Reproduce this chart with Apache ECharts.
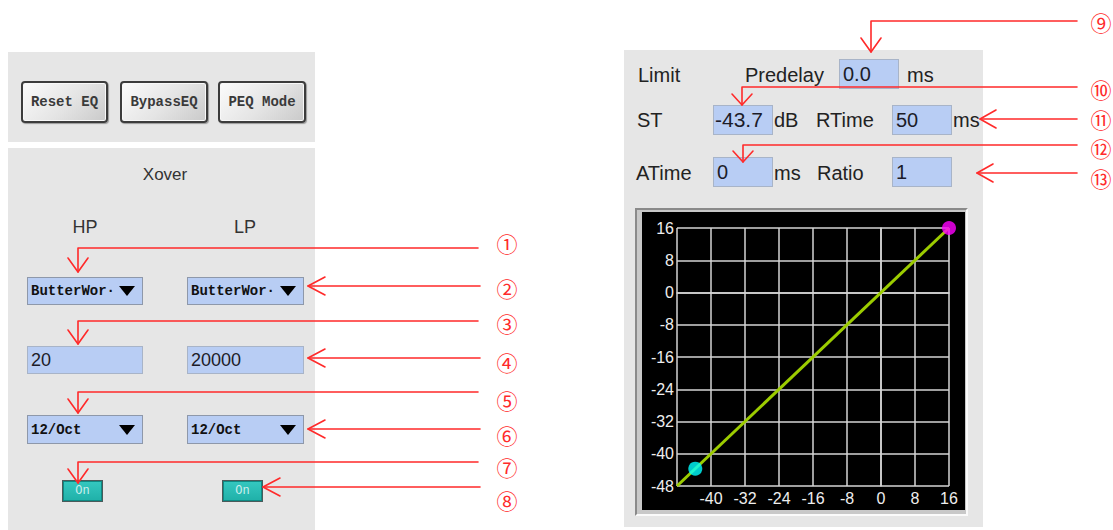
<!DOCTYPE html>
<html>
<head>
<meta charset="utf-8">
<script src="https://cdn.jsdelivr.net/npm/echarts@6/dist/echarts.min.js"></script>
<style>
  html, body { margin: 0; padding: 0; background: #ffffff; }
  body { width: 1113px; height: 530px; position: relative; overflow: hidden; font-family: "Liberation Sans", Arial, sans-serif; color: #222; }
  .panel { position: absolute; background: #e6e6e6; }
  .btn { position: absolute; box-sizing: border-box; border: 2px solid #3c3c3c; border-radius: 4px;
         background: linear-gradient(135deg, #fbfbfb 0%, #e4e4e4 55%, #c9c9c9 100%);
         box-shadow: inset 0 0 0 1px #f8f8f8, 1px 1px 1px #9a9a9a;
         font-family: "Liberation Mono", "DejaVu Sans Mono", monospace; font-weight: bold; font-size: 14px; color: #3a3a3a;
         display: flex; align-items: center; justify-content: center; }
  .lbl { position: absolute; white-space: nowrap; line-height: 1; transform: translateY(-50%); }
  .box { position: absolute; box-sizing: border-box; background: #b8cdf4; border: 1px solid #a8b4c8;
         display: flex; align-items: center; padding-left: 3px; white-space: nowrap; color: #1c1c28; }
  .dd { font-family: "Liberation Mono", "DejaVu Sans Mono", monospace; font-size: 14px; font-weight: bold; color: #111; border-color: #8e98aa; }
  .tri { position: absolute; right: 7px; top: 50%; margin-top: -5px; width: 0; height: 0;
         border-left: 8px solid transparent; border-right: 8px solid transparent; border-top: 10px solid #000; }
  .on { position: absolute; box-sizing: border-box; background: linear-gradient(#35c8c0, #1fb0a8); border: 1px solid #4a5a5a;
        box-shadow: inset 0 0 0 1px #0e8a84; color: #cdeeee; font-family: "Liberation Mono", monospace; font-size: 12px;
        display: flex; align-items: center; justify-content: center; }
  .num { position: absolute; color: #ff2a2a; font-family: "Noto Sans CJK SC", "DejaVu Sans", sans-serif; font-size: 21px;
         line-height: 20px; height: 20px; transform: translate(-50%, -50%); }
  #chartFrame { position: absolute; left: 635px; top: 208px; width: 333px; height: 308px; box-sizing: border-box;
                border-style: solid; border-width: 2px; border-color: #8a8a8a #fafafa #fafafa #8a8a8a; background: #c8c8c8; }
  #chart { position: absolute; left: 642px; top: 212px; width: 323px; height: 298px; background: #000; }
  svg.arrows { position: absolute; left: 0; top: 0; }
</style>
</head>
<body>
<!-- left panels -->
<div class="panel" style="left:8px; top:52px; width:307px; height:90px;"></div>
<div class="panel" style="left:8px; top:148px; width:307px; height:382px;"></div>

<div class="btn" style="left:21px; top:81px; width:87px; height:42px;">Reset EQ</div>
<div class="btn" style="left:120px; top:81px; width:88px; height:42px;">BypassEQ</div>
<div class="btn" style="left:218px; top:81px; width:88px; height:42px;">PEQ Mode</div>

<div class="lbl" style="left:165px; top:174px; font-size:17px; color:#333; transform:translate(-50%,-50%);">Xover</div>
<div class="lbl" style="left:85px; top:227px; font-size:18px; color:#333; transform:translate(-50%,-50%);">HP</div>
<div class="lbl" style="left:245px; top:227px; font-size:18px; color:#333; transform:translate(-50%,-50%);">LP</div>

<div id="hpType" class="box dd" style="left:27px; top:277px; width:116px; height:28px;"></div>
<div id="lpType" class="box dd" style="left:187px; top:277px; width:117px; height:28px;"></div>
<div id="hpFreq" class="box" style="left:27px; top:346px; width:116px; height:28px; font-size:18px;"></div>
<div id="lpFreq" class="box" style="left:187px; top:346px; width:117px; height:28px; font-size:18px;"></div>
<div id="hpSlope" class="box dd" style="left:27px; top:415px; width:116px; height:29px;"></div>
<div id="lpSlope" class="box dd" style="left:187px; top:415px; width:117px; height:29px;"></div>
<div id="hpOn" class="on" style="left:62px; top:480px; width:41px; height:22px;"></div>
<div id="lpOn" class="on" style="left:222px; top:480px; width:41px; height:22px;"></div>

<!-- right panel -->
<div class="panel" style="left:624px; top:50px; width:359px; height:477px;"></div>
<div class="lbl" style="left:638px; top:75px; font-size:20px;">Limit</div>
<div class="lbl" style="left:745px; top:75px; font-size:20px;">Predelay</div>
<div id="predelay" class="box" style="left:839px; top:59px; width:60px; height:30px; font-size:20px;"></div>
<div class="lbl" style="left:907px; top:75px; font-size:20px;">ms</div>

<div class="lbl" style="left:637px; top:120px; font-size:20px;">ST</div>
<div id="st" class="box" style="left:713px; top:105px; width:60px; height:30px; font-size:21px; padding-left:1px;"></div>
<div class="lbl" style="left:774px; top:120px; font-size:20px;">dB</div>
<div class="lbl" style="left:816px; top:120px; font-size:20px;">RTime</div>
<div id="rtime" class="box" style="left:892px; top:105px; width:60px; height:30px; font-size:20px;"></div>
<div class="lbl" style="left:953px; top:120px; font-size:20px;">ms</div>

<div class="lbl" style="left:636px; top:173px; font-size:20px;">ATime</div>
<div id="atime" class="box" style="left:713px; top:157px; width:60px; height:30px; font-size:20px;"></div>
<div class="lbl" style="left:774px; top:173px; font-size:20px;">ms</div>
<div class="lbl" style="left:817px; top:173px; font-size:20px;">Ratio</div>
<div id="ratio" class="box" style="left:892px; top:157px; width:60px; height:30px; font-size:20px;"></div>

<div id="chartFrame"></div>
<div id="chart"></div>

<svg class="arrows" width="1113" height="530" xmlns="http://www.w3.org/2000/svg">
  <g fill="none" stroke="#ff2a2a" stroke-width="1.6" stroke-linecap="round" stroke-linejoin="round">
    <!-- left side -->
    <polyline points="478,248 78,248 78,272"/><polyline points="68,258 78,272 88,258"/>
    <line x1="480" y1="286" x2="308" y2="286"/><polyline points="325,277 308,286 325,295"/>
    <polyline points="478,321 78,321 78,344"/><polyline points="68,330 78,344 88,330"/>
    <line x1="480" y1="358" x2="308" y2="358"/><polyline points="325,349 308,358 325,367"/>
    <polyline points="478,392 78,392 78,413"/><polyline points="68,399 78,413 88,399"/>
    <line x1="480" y1="429" x2="308" y2="429"/><polyline points="325,420 308,429 325,438"/>
    <polyline points="478,462 78,462 78,483"/><polyline points="68,469 78,483 88,469"/>
    <line x1="480" y1="487" x2="263" y2="487"/><polyline points="280,478 263,487 280,496"/>
    <!-- right side -->
    <polyline points="1077,21 871,21 871,52"/><polyline points="861,38 871,52 881,38"/>
    <polyline points="1077,87 742,87 742,105"/><polyline points="732,94 742,105 752,94"/>
    <line x1="1077" y1="119" x2="980" y2="119"/><polyline points="996,110 980,119 996,128"/>
    <polyline points="1077,145 743,145 743,162"/><polyline points="733,151 743,162 753,151"/>
    <line x1="1077" y1="173" x2="977" y2="173"/><polyline points="993,164 977,173 993,182"/>
  </g>
</svg>

<div class="num" style="left:507px; top:243px;">①</div>
<div class="num" style="left:507px; top:288px;">②</div>
<div class="num" style="left:507px; top:323px;">③</div>
<div class="num" style="left:507px; top:362px;">④</div>
<div class="num" style="left:507px; top:400px;">⑤</div>
<div class="num" style="left:507px; top:435px;">⑥</div>
<div class="num" style="left:507px; top:467px;">⑦</div>
<div class="num" style="left:507px; top:500px;">⑧</div>
<div class="num" style="left:1101px; top:22px;">⑨</div>
<div class="num" style="left:1101px; top:89px;">⑩</div>
<div class="num" style="left:1101px; top:119px;">⑪</div>
<div class="num" style="left:1101px; top:148px;">⑫</div>
<div class="num" style="left:1101px; top:178px;">⑬</div>

<script>
// ---- data ----
const levelMin = -48;
const levelMax = 16;
const levelStep = 8;
const inputLevels = [-48, 16];          // dB in
const outputLevels = [-48, 16];         // dB out (ratio 1 => identity)
const thresholdPoint = [-43.7, -43.7];  // ST marker
const maxPoint = [16, 16];              // top marker
const limiterValues = { predelay: "0.0", st: "-43.7", rtime: "50", atime: "0", ratio: "1" };
const xoverTypes = ["ButterWor\u00b7", "ButterWor\u00b7"];
const xoverFreqs = ["20", "20000"];
const xoverSlopes = ["12/Oct", "12/Oct"];
const xoverState = ["On", "On"];

// ---- fill UI text ----
function setText(id, t, tri) {
  const el = document.getElementById(id);
  el.textContent = t;
  if (tri) { const s = document.createElement('span'); s.className = 'tri'; el.appendChild(s); }
}
setText('hpType', xoverTypes[0], true); setText('lpType', xoverTypes[1], true);
setText('hpFreq', xoverFreqs[0]); setText('lpFreq', xoverFreqs[1]);
setText('hpSlope', xoverSlopes[0], true); setText('lpSlope', xoverSlopes[1], true);
setText('hpOn', xoverState[0]); setText('lpOn', xoverState[1]);
setText('predelay', limiterValues.predelay); setText('st', limiterValues.st);
setText('rtime', limiterValues.rtime); setText('atime', limiterValues.atime); setText('ratio', limiterValues.ratio);

// ---- chart ----
const chart = echarts.init(document.getElementById('chart'), null, { renderer: 'svg' });
const gridColor = '#d4d4d4';
const axisCommon = {
  type: 'value', min: levelMin, max: levelMax, interval: levelStep,
  axisLine: { show: true, lineStyle: { color: gridColor, width: 1.5 } },
  axisTick: { show: false },
  splitLine: { show: true, lineStyle: { color: gridColor, width: 1.5 } },
  axisLabel: { color: '#eeeeee', fontSize: 16, fontFamily: 'Liberation Sans', margin: 3 }
};
chart.setOption({
  backgroundColor: '#000000',
  animation: false,
  grid: { left: 35, top: 16, right: 16, bottom: 24, containLabel: false },
  xAxis: Object.assign({}, axisCommon, { axisLabel: Object.assign({}, axisCommon.axisLabel, { showMinLabel: false, margin: 4 }) }),
  yAxis: Object.assign({}, axisCommon),
  series: [
    { type: 'line', data: inputLevels.map((v, i) => [v, outputLevels[i]]), symbol: 'none',
      lineStyle: { color: '#9ccc00', width: 3 }, z: 3, clip: false },
    { type: 'scatter', data: [thresholdPoint], symbolSize: 14, itemStyle: { color: '#00ffff' }, z: 4, clip: false },
    { type: 'scatter', data: [maxPoint], symbolSize: 14, itemStyle: { color: '#ff00ff' }, z: 4, clip: false }
  ]
});
</script>
</body>
</html>
